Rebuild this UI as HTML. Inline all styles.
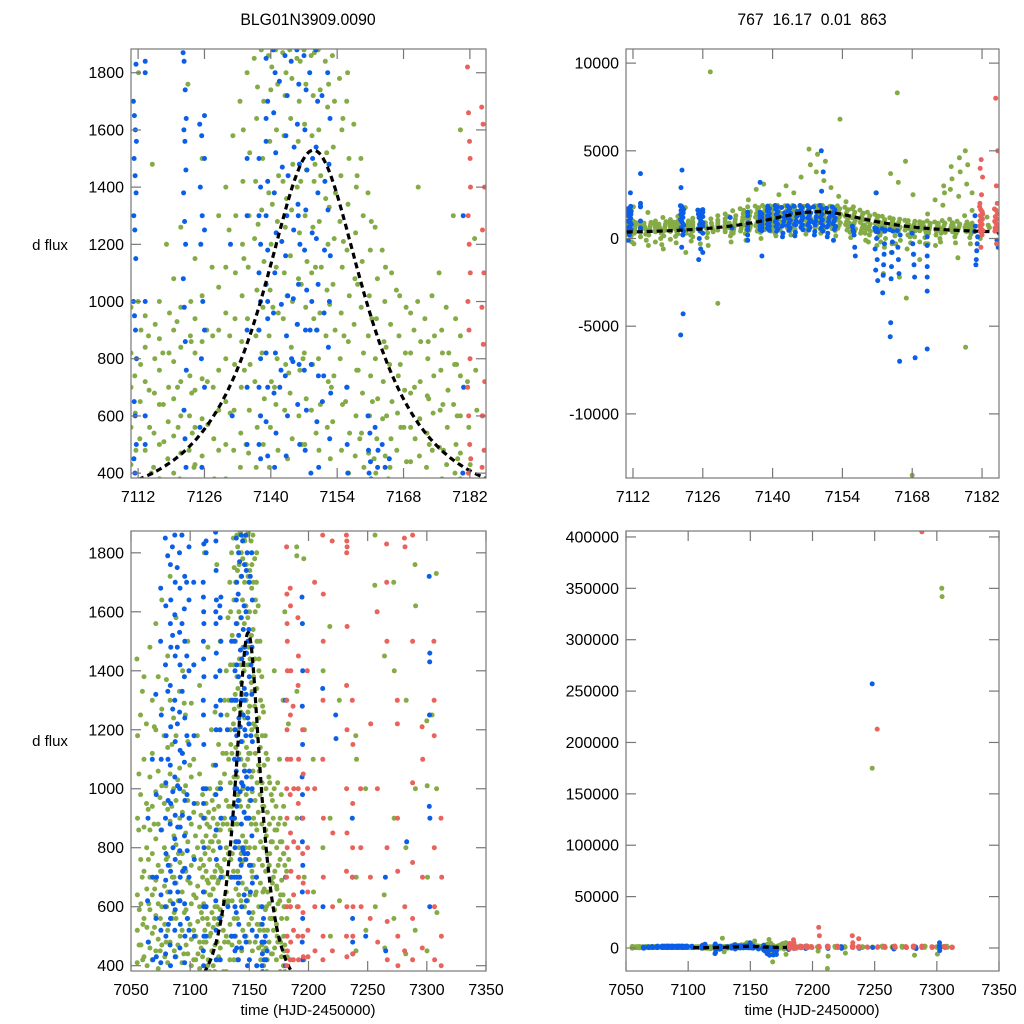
<!DOCTYPE html>
<html><head><meta charset="utf-8">
<style>
html,body{margin:0;padding:0;background:#fff;width:1024px;height:1024px;overflow:hidden;}
svg{display:block;font-family:"Liberation Sans",sans-serif;}
</style></head>
<body>
<svg id="fig" width="1024" height="1024" viewBox="0 0 1024 1024" xmlns="http://www.w3.org/2000/svg">
<rect width="1024" height="1024" fill="#fff"/>
<text x="308" y="25" font-size="17" text-anchor="middle" transform="translate(308,0) scale(0.93,1) translate(-308,0)">BLG01N3909.0090</text>
<text x="812" y="25" font-size="17" text-anchor="middle" style="white-space:pre" xml:space="preserve" transform="translate(812,0) scale(0.93,1) translate(-812,0)">767  16.17  0.01  863</text>
<text x="50" y="250" font-size="15" text-anchor="middle">d flux</text>
<text x="50" y="746" font-size="15" text-anchor="middle">d flux</text>
<text x="308" y="1015" font-size="15" text-anchor="middle">time (HJD-2450000)</text>
<text x="812" y="1015" font-size="15" text-anchor="middle">time (HJD-2450000)</text>
</svg>
<script>
// ---- data: observation nights [time, [fluxes...]] per telescope ----
const greenNights = [
[7055,[1440,1180,900,640,520,410,300,-200]],[7058,[1250,980,760,610,470,350]],[7061,[1380,1100,870,720,560,430,180]],
[7063,[1220,950,800,660,530,400]],[7066,[1480,1040,860,700,590,460,250]],[7068,[1300,1120,940,780,640,510,420]],
[7071,[1560,1200,990,830,690,570,450]],[7073,[1380,1060,880,740,610,490,390]],[7076,[1640,1270,1010,860,720,600,470]],
[7078,[1180,950,800,670,540,430]],[7081,[1450,1140,930,770,650,520,410]],[7083,[1720,1300,1050,890,740,620,480]],
[7086,[1240,1000,840,700,580,450]],[7088,[1580,1180,960,810,680,560,430]],[7091,[1330,1070,900,750,620,500]],
[7093,[1860,1400,1120,920,780,650,520,410]],[7096,[1250,1010,850,720,590,470]],[7098,[1500,1160,960,820,690,560,440]],
[7101,[1290,1040,880,740,610,490,400]],[7103,[1420,1100,920,770,640,520,420]],[7106,[1180,950,800,670,550,440]],
[7108,[1350,1050,870,730,600,480,390]],
[7110.5,[980,820,700,560,430,220,-100]],[7112,[1000,900,780,650,520,300,-300,1800]],[7113.5,[950,840,720,600,480,350,100]],
[7115,[1480,920,800,680,540,420,200,-400]],[7116.5,[1000,870,760,640,500,380,-200]],[7118,[1200,960,820,700,580,450,150,-600]],
[7119.5,[1080,900,790,660,530,400,-50]],[7121,[1260,980,840,720,600,470,260]],[7122.5,[1760,1000,880,740,600,480,300,-800]],
[7124,[1150,940,820,690,560,430,100]],[7125.5,[1500,1020,860,730,590,460,-300]],[7127.5,[9500,1120,880,700,520,380]],
[7129,[1300,1050,900,760,620,480,-3700]],[7130.5,[1400,1120,960,800,650,500,380]],[7132,[1580,1300,1100,940,780,620,480,300]],
[7133.5,[1700,1420,1200,1020,860,700,540,420]],[7135,[1800,1520,1300,1120,940,780,620,470,2200]],
[7136.5,[1850,1640,1420,1220,1040,880,720,560,420,2800]],[7138,[1880,1700,1500,1320,1140,980,820,660,500,3100]],
[7139.5,[1860,1740,1560,1380,1200,1040,880,720,560,420]],[7141,[1880,1760,1600,1440,1280,1120,960,800,640,480,2500]],
[7142.5,[1870,1720,1580,1420,1260,1100,940,780,620,3000]],[7144,[1880,1780,1640,1480,1320,1160,1000,840,680,520,2600]],
[7145.5,[1850,1700,1560,1400,1240,1080,920,760,600,3500]],[7147,[1880,1760,1620,1460,1300,1140,980,820,660,500,4200,5100]],
[7148.5,[1860,1720,1580,1420,1260,1100,940,780,620,4800,3800]],[7150,[1880,1740,1600,1440,1280,1120,960,800,640,480,4400,3300]],
[7151.5,[1840,1680,1520,1360,1200,1040,880,720,560,2900]],[7153,[1860,1700,1540,1380,1220,1060,900,740,580,6800,2400]],
[7154.5,[1780,1600,1440,1280,1120,960,800,640,480,2100]],[7156,[1700,1500,1340,1180,1020,860,700,540,400,1800]],
[7157.5,[1620,1400,1240,1080,920,760,600,460,300]],[7159,[1500,1300,1140,980,820,680,540,420,200,-200]],
[7160.5,[1380,1180,1020,880,740,600,470,100,-400,2600]],[7162,[1260,1080,940,800,660,520,400,0,-500,-2000]],
[7163.5,[1180,1000,860,720,590,460,-300,-800,3700]],[7165,[8300,1100,920,780,650,520,420,-100,-2200,3200]],
[7166.5,[1040,880,740,610,480,200,-600,-3400,4400]],[7168,[-13500,980,820,690,560,440,100,-900,2500]],
[7169.5,[960,820,680,560,440,-200,-1200]],[7171,[1000,860,720,590,460,300,-300,1400]],
[7172.5,[940,800,670,540,420,200,-400,2200]],[7174,[1020,880,740,610,480,350,2600,3000,1900]],
[7175.5,[1100,900,760,620,490,380,3400,4100,2800]],[7177,[980,820,690,560,430,3800,4600,2400,-1100]],
[7178.5,[1300,940,780,640,500,400,5000,4200,3100,-6200]],[7180,[880,740,600,470,380,2600,1600]],[7183,[1220,760,620]],
[7190,[1820,1790,1330,900,600,200]],[7196,[1780,1200,700,420]],[7204,[1100,650,-3000]],[7212,[-20000,-8000,1400,800]],
[7218,[1550,900,500]],[7226,[1300,620,-5000]],[7240,[1180,1100,700,450]],[7248,[175000,1000,520]],
[7256,[1690,1860,600]],[7264,[640,1450,460]],[7272,[1700,1400,900,560]],[7282,[-7000,1300,800,440]],
[7290,[1760,1620,1000,520]],[7300,[1230,1010,700,450,-6000]],[7304,[350000,342000,1250]],[7308,[1730,1000,580]]
];
// additional green exposures (interleaved nights)
const greenExtra = [
[7056.5,[860,590,470,1050]],[7059.5,[700,540,420,1330]],[7064.5,[930,610,480,760]],[7069.5,[880,660,530,1210]],
[7074.5,[970,720,560,450]],[7079.5,[1010,760,600,480,1370]],[7084.5,[940,700,560,1150]],[7089.5,[1030,780,620,470]],
[7094.5,[990,730,580,440,1290]],[7099.5,[900,680,540,1080]],[7104.5,[840,630,500,420]],[7109,[760,580,460,910]],
[7111.3,[740,610,480,150,-200,350]],[7114.2,[880,690,560,250,-100,400]],[7117.2,[820,640,510,0,300,-350]],
[7120.2,[930,700,560,120,-250,380]],[7123.2,[860,680,540,200,-150,420]],[7126.5,[900,720,570,50,320,-400]],
[7131.2,[1250,880,610,150,-200,350]],[7134.2,[1600,1150,760,280,-100,500]],[7137.2,[1750,1270,900,350,0,600]],
[7140.2,[1820,1340,980,300,150,700]],[7143.2,[1800,1360,1020,450,200,750]],[7146.2,[1840,1420,1060,500,250,800]],
[7149.2,[1870,1480,1120,540,300,900]],[7152.2,[1760,1330,990,450,150,700]],[7155.2,[1640,1210,880,350,50,650]],
[7158.2,[1440,1060,760,300,-100,520]],[7161.2,[1280,940,650,200,-200,450]],[7164.2,[1120,840,600,150,-300,380]],
[7167.2,[1020,780,560,100,-250,350]],[7170.2,[900,700,520,50,-300,320]],[7173.2,[860,660,500,0,-200,300]],
[7176.2,[820,640,480,100,-250,280]],[7179.2,[780,600,450,50,-300,250]],[7181.5,[720,560,430,0,300]]
];
const blueNights = [
[7064,[620,480,900,-200]],[7068,[1100,700,420]],[7071,[1320,980,700,560,430]],
[7075,[1500,1250,1100,860,640,520,410,1680]],[7079,[1850,1620,1420,1180,1020,900,780,690,600,500,440]],
[7083,[1880,1760,1640,1560,1480,1350,1210,1080,950,880,720,650,560,470,400]],
[7087,[1860,1700,1590,1450,1300,1160,1040,910,830,760,680,590,520,430]],
[7091,[1800,1680,1530,1420,1260,1130,1000,870,790,700,620,540,460]],
[7095,[1880,1720,1610,1500,1380,1240,1090,960,840,730,610,500,410]],
[7099,[1820,1640,1400,1150,900,700,520]],[7103,[1700,1420,1180,950,760,500]],
[7111,[1700,1650,1600,1560,1500,1440,1380,1300,1250,1150,1000,950,900,800,650,600,500,450,400,1830,-100,200,2600]],
[7113.5,[1840,1800,1000,600,2000,3700,500]],
[7121.5,[1870,1840,1740,1640,1600,1560,1460,1380,1280,1200,1080,980,860,760,620,520,420,2900,3900,-4300,-5500,-500,200]],
[7125,[1620,1580,1400,1300,1200,1000,800,560,420,-1200,-600,0]],[7126,[1650,1500,1250,900,700,-800,300]],
[7131.5,[1200,600]],[7135,[1500,1300,900,500,-100,200,700]],
[7137.5,[1500,1400,1300,1200,1100,1000,900,800,700,600,500,450,3200,-1000]],
[7139,[1850,1700,1560,1420,1300,1180,1060,940,820,700,580,460,1640,1000]],
[7140.5,[1880,1800,1660,1520,1380,1240,1100,960,820,680,540,420]],
[7143,[1860,1720,1580,1440,1300,1160,1020,880,740,600,460]],
[7145.5,[1880,1760,1620,1480,1340,1200,1060,920,780,640,500,1300]],
[7147,[1860,1740,1600,1460,1320,1180,1040,900,760,620,480]],
[7149.5,[1880,1700,1540,1380,1220,1060,900,740,580,420,5000,3800,2700]],
[7152,[1800,1640,1480,1320,1160,1000,840,680,520,-100]],[7156,[700,500,400,200,-500,-1000]],
[7160.5,[600,540,480,440,400,380,0,-600,-1200,-1800,-2400,2600]],[7162,[560,480,420,-300,-900,-1500,-2100,-3100]],
[7163.5,[500,420,-200,-800,-1600,-2300,-4800,-5600]],[7165,[450,-500,-1200,-2000,-7000,200]],
[7168,[300,-300,-900,-1500,-2200,-6800]],[7171,[-400,-1000,-1600,-2200,-3000,-6300,100]],
[7180.5,[400,100,-300,-700,-1200,-1500,700,1300]],[7185,[-100,-500,300]],
[7194.5,[1650,1560,1400,1280,1150,1040,980,900,820,740,650,560,480,420,-500,0]],
[7212,[1340,600,-500]],[7223,[1250,1170,-400]],[7237,[900,700,560,480,440,-300]],[7248,[257000,500]],
[7265,[700,450,-1000]],[7283,[820,-600]],[7302,[1720,1460,1430,1250,940,900,600,-2500,5000]]
];
// additional blue exposures
const blueExtra = [
[7081,[1790,1330,1100,960,740,540]],[7085,[1820,1520,1270,990,800,610]],[7089,[1750,1480,1220,1010,870,650]],
[7093,[1860,1560,1330,1120,910,720]],[7097,[1700,1450,1180,980,790,560]],
[7141.8,[1770,1470,1210,990,760,300,100,700]],[7144.3,[1840,1540,1250,1010,790,350,150,800]],
[7148.2,[1800,1500,1240,1000,780,400,200,900]],[7150.8,[1720,1420,1180,960,740,300,100,650]]
];
const redNights = [
[7181.5,[1820,1660,1560,1400,1300,1200,1100,1000,900,800,700,600,500,450,400,2500,3500,4000,4500,1500,2000,-500,200]],
[7184.5,[1680,1620,1400,1250,1100,980,850,720,600,480,420,3000,5000,8000,2000,600,-300]],
[7187,[1280,1000,820,640,520,420,100,-200]],[7191,[1580,1450,1350,1100,950,800,700,600,500,420,1000]],
[7195,[1200,1050,900,780,680,580,500,430,300,2000]],[7199,[1400,1000,800,650,520,430]],
[7205,[20000,1700,1000,600,450,12000]],[7212,[1860,1660,1500,1300,1100,900,700,500,420]],
[7220,[1840,850,600,450]],[7232,[1860,1840,1820,1800,1550,1350,1200,1000,850,720,600,500,430,12000,5000]],
[7237,[1300,1150,950,800,700,600,500,440,9000]],[7244,[1000,800,600]],[7252,[213000,1220,700,560]],
[7258,[1600,1000,480]],[7266,[1830,1700,1500,800,550,420]],[7275,[1300,1220,900,720,500,400]],
[7281,[1850,1820,600,450]],[7288,[405000,1860,1500,1020,750,560,420]],[7296,[1210,1100,700,460]],
[7306,[1500,1300,1180,800,600,420]],[7312,[900,700,500,400]]
];
// model fit parameters (t0, tE, u0, source flux, blend flux)
const modelParams = [7149, 20, 0.6, 1408, -1123];
const xTicksZoom = [7112,7126,7140,7154,7168,7182];
const xTicksFull = [7050,7100,7150,7200,7250,7300,7350];
const yTicksFlux = [400,600,800,1000,1200,1400,1600,1800];
const yTicksMid = [-10000,-5000,0,5000,10000];
const yTicksWide = [0,50000,100000,150000,200000,250000,300000,350000,400000];

const NS='http://www.w3.org/2000/svg';
const svg=document.getElementById('fig');
function mk(tag,attrs,parent){const e=document.createElementNS(NS,tag);for(const k in attrs)e.setAttribute(k,attrs[k]);(parent||svg).appendChild(e);return e;}

const panels=[
 {id:'top-left',x0:131,x1:486,y0:49,y1:478,xd:[7110.5,7185.4],yd:[383,1883],xt:xTicksZoom,yt:yTicksFlux},
 {id:'top-right',x0:626,x1:999,y0:49,y1:478,xd:[7110.6,7185.4],yd:[-13655,10805],xt:xTicksZoom,yt:yTicksMid},
 {id:'bottom-left',x0:131,x1:486,y0:531,y1:971,xd:[7050,7350],yd:[382,1874],xt:xTicksFull,yt:yTicksFlux},
 {id:'bottom-right',x0:626,x1:999,y0:531,y1:971,xd:[7050,7350],yd:[-22400,405800],xt:xTicksFull,yt:yTicksWide}
];
function model(t){const [t0,tE,u0,fs,fb]=modelParams;const u=Math.sqrt(u0*u0+Math.pow((t-t0)/tE,2));const A=(u*u+2)/(u*Math.sqrt(u*u+4));return fb+fs*A;}

panels.forEach((p,pi)=>{
 const sx=v=>p.x0+(v-p.xd[0])/(p.xd[1]-p.xd[0])*(p.x1-p.x0);
 const sy=v=>p.y1-(v-p.yd[0])/(p.yd[1]-p.yd[0])*(p.y1-p.y0);
 const g=mk('g',{});
 
 
 const cp=mk('clipPath',{id:'clip'+pi},g);
 mk('rect',{x:p.x0,y:p.y0,width:p.x1-p.x0,height:p.y1-p.y0},cp);
 const plot=mk('g',{'clip-path':'url(#clip'+pi+')'},g);
 const drawSeries=(name,nights,col)=>{
  const sg=mk('g',{fill:col},plot);
  
  
  nights.forEach(n=>{const t=n[0],fl=n[1],m=fl.length;fl.forEach((f,i)=>{
   const tt=t+0.7*((i*7)%m)/Math.max(1,m);
   const cx=sx(tt),cy=sy(f);
   if(cx<p.x0-3||cx>p.x1+3||cy<p.y0-3||cy>p.y1+3)return;
   const c=mk('circle',{cx:cx.toFixed(1),cy:cy.toFixed(1),r:2.5},sg);
   
   
  });});
 };
 drawSeries('green',greenNights,'#84ab46');
 drawSeries('green-extra',greenExtra,'#84ab46');
 drawSeries('blue',blueNights,'#0b5ee8');
 drawSeries('blue-extra',blueExtra,'#0b5ee8');
 let d='';for(let t=7104;t<=7186;t+=0.25){const x=sx(t),y=sy(model(t));if(x<p.x0||x>p.x1||y>p.y1+2||y<p.y0)continue;d+=(d?'L':'M')+x.toFixed(1)+' '+y.toFixed(1);}
 const cv=mk('path',{d:d,fill:'none',stroke:'#000','stroke-width':3.2,'stroke-dasharray':'6 4'},plot);
 
 
 drawSeries('red',redNights,'#ea625c');
 const fr=mk('rect',{x:p.x0,y:p.y0,width:p.x1-p.x0,height:p.y1-p.y0,fill:'none',stroke:'#777','stroke-width':1.2},g);
 
 
 p.xt.forEach(v=>{const x=sx(v);
  mk('line',{x1:x,x2:x,y1:p.y1,y2:p.y1-10,stroke:'#777','stroke-width':1.2},g);
  mk('line',{x1:x,x2:x,y1:p.y0,y2:p.y0+10,stroke:'#777','stroke-width':1.2},g);
  const tx=mk('text',{x:x,y:p.y1+24,'font-size':16,'text-anchor':'middle'},g);tx.textContent=v;
  
  
 });
 p.yt.forEach(v=>{const y=sy(v);
  mk('line',{x1:p.x0,x2:p.x0+10,y1:y,y2:y,stroke:'#777','stroke-width':1.2},g);
  mk('line',{x1:p.x1,x2:p.x1-10,y1:y,y2:y,stroke:'#777','stroke-width':1.2},g);
  const ty=mk('text',{x:p.x0-7,y:y+5.5,'font-size':16,'text-anchor':'end'},g);ty.textContent=v;
  
  
 });
});
</script>
</body></html>
